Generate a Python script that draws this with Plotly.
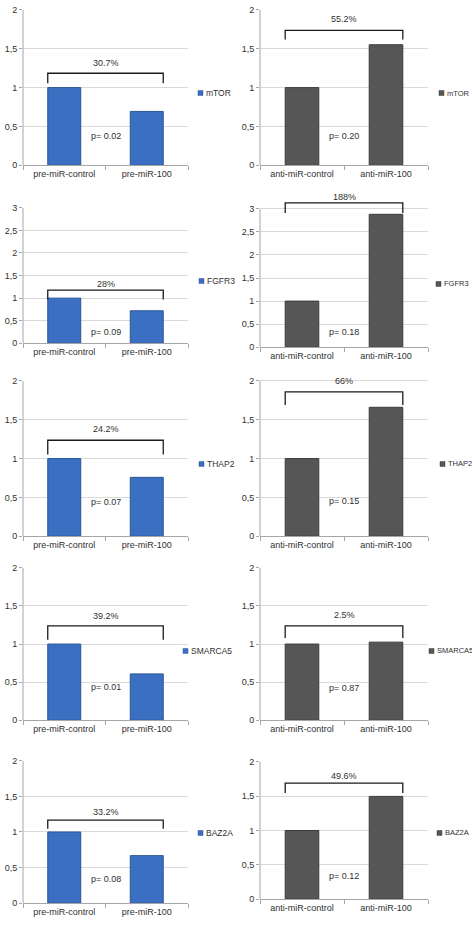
import plotly.graph_objects as go

# ---------------- data ----------------
genes = ["mTOR", "FGFR3", "THAP2", "SMARCA5", "BAZ2A"]
pre_labels = ["pre-miR-control", "pre-miR-100"]
anti_labels = ["anti-miR-control", "anti-miR-100"]
pre_values = [[1, 0.693], [1, 0.72], [1, 0.758], [1, 0.608], [1, 0.668]]
anti_values = [[1, 1.552], [1, 2.88], [1, 1.66], [1, 1.025], [1, 1.496]]
pre_change = ["30.7%", "28%", "24.2%", "39.2%", "33.2%"]
anti_change = ["55.2%", "188%", "66%", "2.5%", "49.6%"]
pre_p = ["p= 0.02", "p= 0.09", "p= 0.07", "p= 0.01", "p= 0.08"]
anti_p = ["p= 0.20", "p= 0.18", "p= 0.15", "p= 0.87", "p= 0.12"]
pre_ymax = [2, 3, 2, 2, 2]
anti_ymax = [2, 3, 2, 2, 2]

# ---------------- annotation placement (data units) ----------------
pre_br_top = [1.185, 1.176, 1.236, 1.238, 1.167]
pre_br_bot = [1.057, 0.97, 1.053, 1.056, 1.046]
pre_lab_y = [1.32, 1.307, 1.385, 1.37, 1.28]
pre_p_y = [0.38, 0.26, 0.44, 0.43, 0.34]
anti_br_top = [1.736, 3.13, 1.86, 1.238, 1.69]
anti_br_bot = [1.618, 2.91, 1.69, 1.078, 1.545]
anti_lab_y = [1.88, 3.26, 2.0, 1.38, 1.79]
anti_p_y = [0.38, 0.33, 0.45, 0.42, 0.335]

# ---------------- layout geometry (pixels) ----------------
W, H = 472, 927
cols_px = [(23, 188), (260, 428)]
rows_px = [
    [(5, 162), (5, 162)],
    [(205, 342), (206, 346)],
    [(380, 537), (380, 537)],
    [(569, 723), (569, 723)],
    [(764, 908), (765, 904)],
]
legend_y_px = [[89, 89], [279, 282], [464, 464], [653, 653], [837, 837]]
legend_x_px = [[198, 439], [199, 436], [199, 440], [183, 429], [198, 437]]
legend_font = [8.5, 7.5]

BLUE = "#3b6fc2"
BLUE_LINE = "#2a5696"
GRAY = "#565656"
GRAY_LINE = "#3c3c3c"
AXIS = "#a6a6a6"
FONT = "Liberation Sans, Arial, sans-serif"
TXT = "#303030"
BAR_W = 0.4

fig = go.Figure()
layout = dict(
    width=W, height=H, margin=dict(l=0, r=0, t=0, b=0),
    paper_bgcolor="white", plot_bgcolor="white",
    showlegend=False, bargap=0.6,
    font=dict(family=FONT, size=9, color=TXT),
)
shapes = []
annotations = []

idx = 0
for r in range(5):
    for c in range(2):
        idx += 1
        if c == 0:
            cats, vals, ymax = pre_labels, pre_values[r], pre_ymax[r]
            btop, bbot, laby, py = pre_br_top[r], pre_br_bot[r], pre_lab_y[r], pre_p_y[r]
            change, ptxt, color, lcolor = pre_change[r], pre_p[r], BLUE, BLUE_LINE
        else:
            cats, vals, ymax = anti_labels, anti_values[r], anti_ymax[r]
            btop, bbot, laby, py = anti_br_top[r], anti_br_bot[r], anti_lab_y[r], anti_p_y[r]
            change, ptxt, color, lcolor = anti_change[r], anti_p[r], GRAY, GRAY_LINE
        xs = "" if idx == 1 else str(idx)
        xa, ya = "x" + xs, "y" + xs
        top_px, zero_px = rows_px[r][c]
        rng_top = max(ymax, laby + 0.1)
        ppu = (zero_px - top_px) / ymax
        dom_top_px = zero_px - rng_top * ppu
        x0p, x1p = cols_px[c]

        fig.add_trace(go.Bar(
            x=cats, y=vals, xaxis=xa, yaxis=ya, width=BAR_W,
            marker=dict(color=color, line=dict(color=lcolor, width=1)),
            name=genes[r], hoverinfo="x+y",
        ))

        tickvals = [v * 0.5 for v in range(int(ymax * 2) + 1)]
        ticktext = [("%g" % v).replace(".", ",") for v in tickvals]
        layout["xaxis" + xs] = dict(
            domain=[x0p / W, x1p / W], anchor=ya, type="category",
            range=[-0.5, 1.5], tickson="boundaries",
            showline=True, linecolor=AXIS, linewidth=1,
            ticks="outside", ticklen=4, tickcolor=AXIS,
            showgrid=False, tickfont=dict(size=9, color=TXT), fixedrange=True,
        )
        layout["yaxis" + xs] = dict(
            domain=[1 - zero_px / H, 1 - dom_top_px / H], anchor=xa,
            range=[0, rng_top], tickvals=tickvals, ticktext=ticktext,
            showline=False,
            ticks="outside", ticklen=3, tickcolor=AXIS,
            showgrid=True, gridcolor="#d9d9d9", gridwidth=1, zeroline=False,
            tickfont=dict(size=9, color=TXT), fixedrange=True,
        )
        # y axis line only up to the top gridline
        shapes.append(dict(type="line", xref="paper", yref=ya,
                           x0=x0p / W, x1=x0p / W, y0=0, y1=ymax,
                           line=dict(color=AXIS, width=1)))

        # bracket spanning from the outer edge of bar 1 to the outer edge of bar 2
        bx0, bx1 = 0 - BAR_W / 2, 1 + BAR_W / 2
        line = dict(color="#1a1a1a", width=1.3)
        shapes.append(dict(type="path", xref=xa, yref=ya, line=line,
                           path=f"M {bx0},{bbot} L {bx0},{btop} L {bx1},{btop} L {bx1},{bbot}"))
        annotations.append(dict(x=0.5, y=laby, xref=xa, yref=ya, text=change,
                                showarrow=False, font=dict(size=9, color=TXT)))
        annotations.append(dict(x=0.5, y=py, xref=xa, yref=ya, text=ptxt,
                                showarrow=False, font=dict(size=9, color=TXT)))
        # legend (square swatch + label)
        lx = legend_x_px[r][c]
        lyp = legend_y_px[r][c]
        shapes.append(dict(type="rect", xref="paper", yref="paper",
                           x0=lx / W, x1=(lx + 5) / W,
                           y0=1 - (lyp + 2.5) / H, y1=1 - (lyp - 2.5) / H,
                           fillcolor=color, line=dict(color=lcolor, width=0.5)))
        annotations.append(dict(x=(lx + 6) / W, y=1 - lyp / H, xref="paper", yref="paper",
                                xanchor="left", yanchor="middle", text=genes[r],
                                showarrow=False, font=dict(size=legend_font[c], color=TXT)))

layout["shapes"] = shapes
layout["annotations"] = annotations
fig.update_layout(**layout)
fig.write_html(
    "out.html",
    config={"displayModeBar": False, "staticPlot": True},
    post_script="document.body.style.margin='0';document.body.style.overflow='hidden';"
                "document.documentElement.style.overflow='hidden';",
)
